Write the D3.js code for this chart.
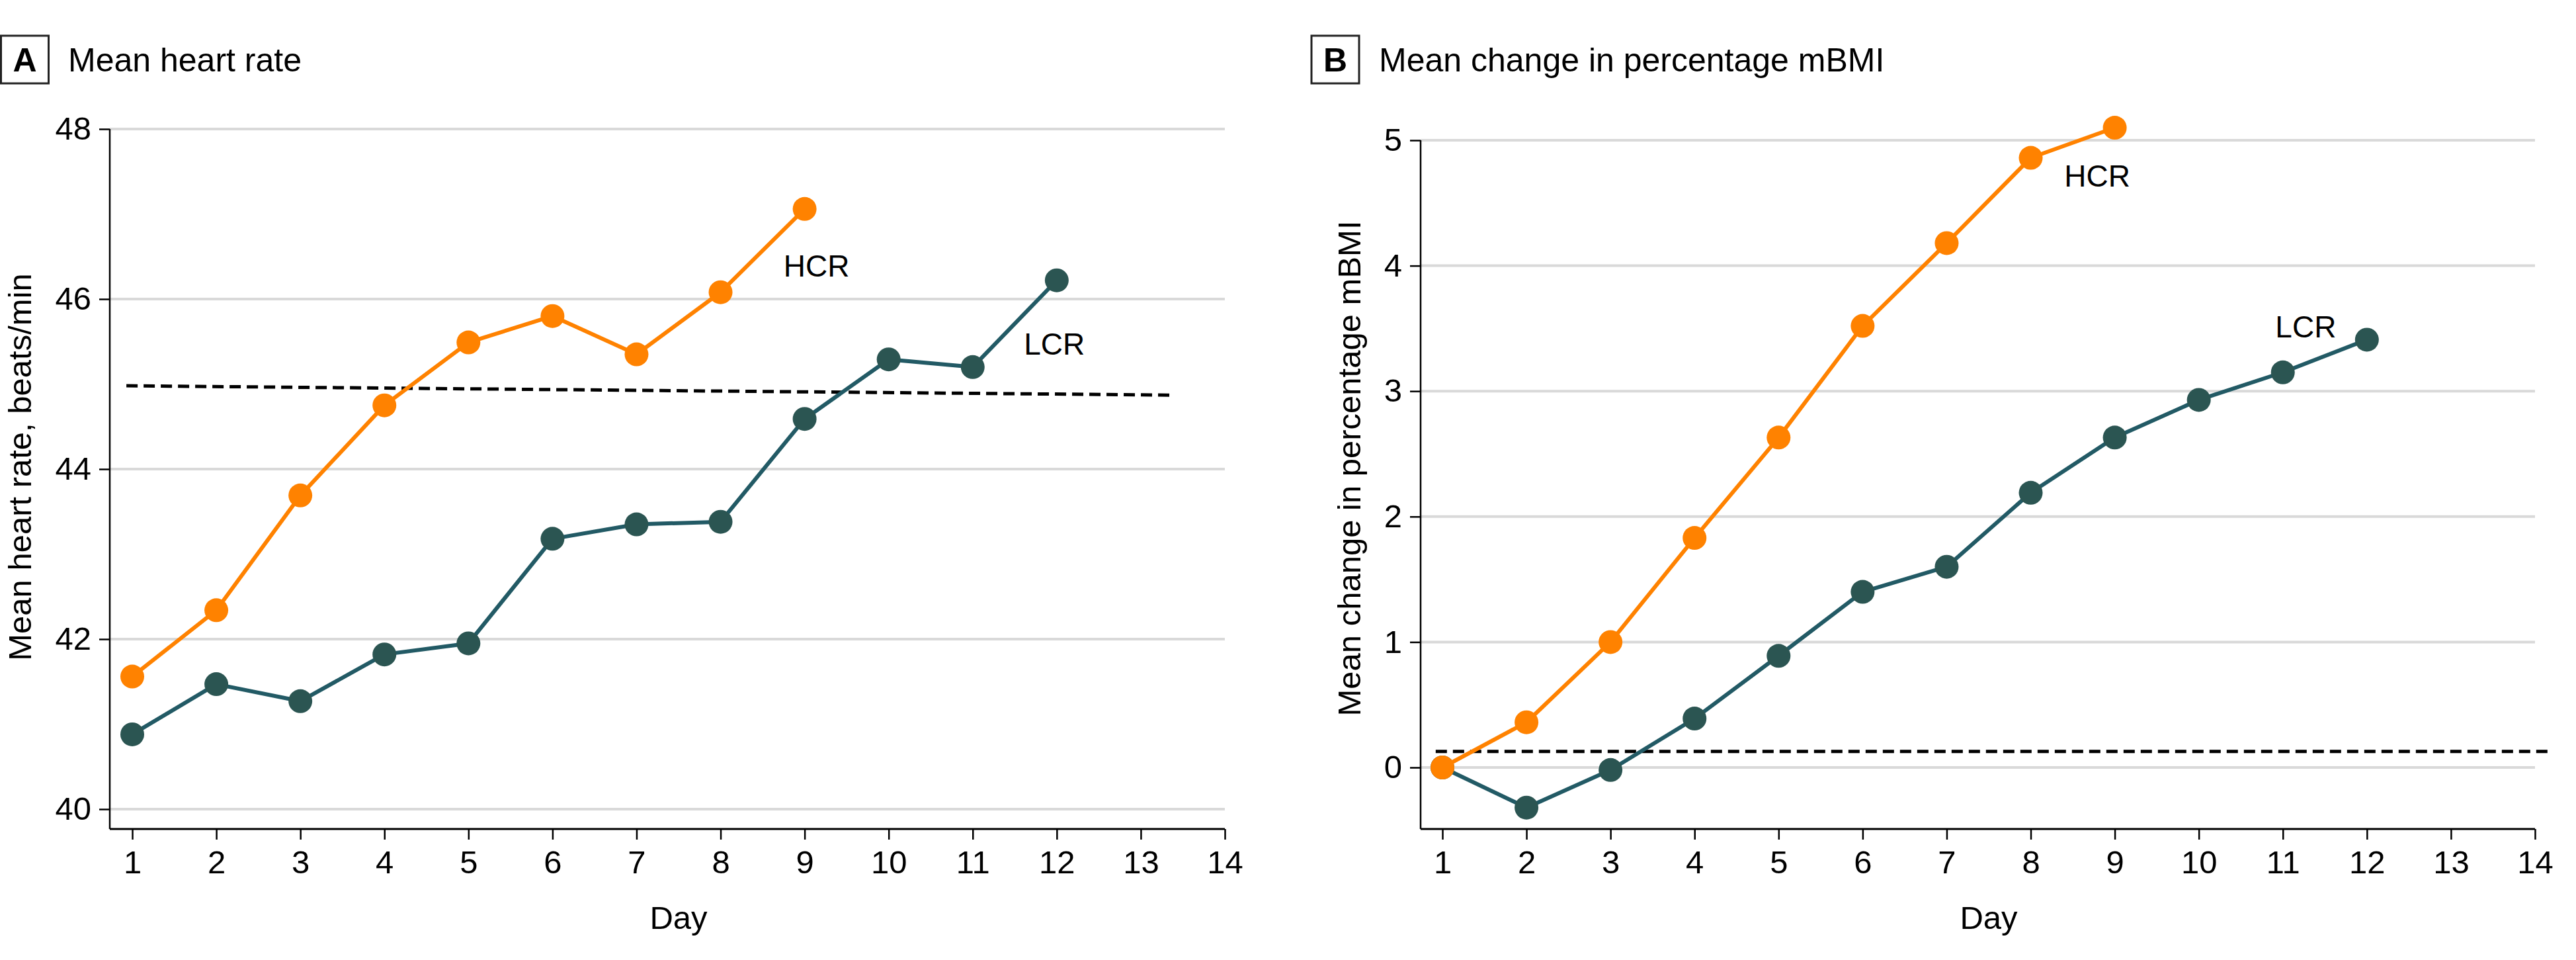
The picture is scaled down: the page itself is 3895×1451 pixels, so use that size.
<!DOCTYPE html>
<html>
<head>
<meta charset="utf-8">
<script src="https://cdn.jsdelivr.net/npm/d3@7"></script>
<style>
  html, body { margin: 0; padding: 0; background: #fff; }
  svg { display: block; }
  text { font-family: "Liberation Sans", Arial, sans-serif; fill: #000; }
</style>
</head>
<body>
<svg id="chart" width="3895" height="1451"></svg>
<script>
// ---------- data ----------
const dayTicks = [1, 2, 3, 4, 5, 6, 7, 8, 9, 10, 11, 12, 13, 14];
const hcrDaysShort = [1, 2, 3, 4, 5, 6, 7, 8, 9];
const lcrDays = [1, 2, 3, 4, 5, 6, 7, 8, 9, 10, 11, 12];

const hrTicks = [40, 42, 44, 46, 48];
const hrHCR = [41.56, 42.34, 43.69, 44.75, 45.49, 45.80, 45.35, 46.08, 47.06];
const hrLCR = [40.88, 41.47, 41.27, 41.82, 41.95, 43.18, 43.35, 43.38, 44.59, 45.29, 45.20, 46.22];
const hrRefDays = [0.93, 13.38];
const hrRefValues = [44.98, 44.87];

const bmiTicks = [0, 1, 2, 3, 4, 5];
const bmiHCR = [0, 0.36, 1.00, 1.83, 2.63, 3.52, 4.18, 4.86, 5.10];
const bmiLCR = [0, -0.32, -0.02, 0.39, 0.89, 1.40, 1.60, 2.19, 2.63, 2.93, 3.15, 3.41];
const bmiRefDays = [0.92, 14.2];
const bmiRefValues = [0.128, 0.128];

const seriesNames = ["LCR", "HCR"];

// ---------- styles ----------
const ORANGE = "#FF8200";
const TEAL_LINE = "#225A65";
const TEAL_DOT = "#2B5552";
const GRID = "#d9d9d9";
const FS = 49;

const svg = d3.select("#chart");
svg.append("rect").attr("width", 3895).attr("height", 1451).attr("fill", "#fff");

const panels = [
  {
    letter: "A", title: "Mean heart rate", ylabel: "Mean heart rate, beats/min",
    boxX: 1.5, titleX: 103, axisX: 166, x0: 200, x1: 1852,
    yDomain: [40, 48], yRange: [1223, 195], yTicks: hrTicks, yTop: 195,
    hcr: hrHCR, lcr: hrLCR, refDays: hrRefDays, refValues: hrRefValues,
    ylabX: 47, ylabY: 706,
    hcrLab: [8.75, 46.265], lcrLab: [11.61, 45.35]
  },
  {
    letter: "B", title: "Mean change in percentage mBMI", ylabel: "Mean change in percentage mBMI",
    boxX: 1983, titleX: 2085, axisX: 2148, x0: 2181, x1: 3833,
    yDomain: [0, 5], yRange: [1160, 212], yTicks: bmiTicks, yTop: 212,
    hcr: bmiHCR, lcr: bmiLCR, refDays: bmiRefDays, refValues: bmiRefValues,
    ylabX: 2057, ylabY: 708,
    hcrLab: [8.40, 4.63], lcrLab: [10.91, 3.43]
  }
];

const AXIS_Y = 1253;

panels.forEach(p => {
  const g = svg.append("g");
  const x = d3.scaleLinear().domain([1, 14]).range([p.x0, p.x1]);
  const y = d3.scaleLinear().domain(p.yDomain).range(p.yRange);

  // panel title with boxed letter
  g.append("rect").attr("x", p.boxX).attr("y", 54).attr("width", 72).attr("height", 72)
    .attr("fill", "none").attr("stroke", "#222").attr("stroke-width", 3);
  g.append("text").attr("x", p.boxX + 36).attr("y", 108).attr("text-anchor", "middle")
    .attr("font-size", 50).attr("font-weight", "bold").text(p.letter);
  g.append("text").attr("x", p.titleX).attr("y", 108).attr("font-size", 50).text(p.title);

  // gridlines
  g.append("g").selectAll("line").data(p.yTicks).join("line")
    .attr("x1", p.axisX).attr("x2", p.x1)
    .attr("y1", d => y(d)).attr("y2", d => y(d))
    .attr("stroke", GRID).attr("stroke-width", 4);

  // y axis
  const ya = g.append("g").attr("transform", `translate(${p.axisX},0)`)
    .call(d3.axisLeft(y).tickValues(p.yTicks).tickSize(16).tickPadding(12).tickFormat(d3.format("d")));
  ya.select(".domain").remove();
  ya.selectAll(".tick line").attr("stroke", "#000").attr("stroke-width", 2.5);
  ya.selectAll(".tick text").attr("font-size", FS).attr("font-family", "Liberation Sans, Arial, sans-serif").attr("fill", "#000");
  g.append("line").attr("x1", p.axisX).attr("x2", p.axisX).attr("y1", p.yTop).attr("y2", AXIS_Y)
    .attr("stroke", "#000").attr("stroke-width", 2.5);

  // x axis
  const xa = g.append("g").attr("transform", `translate(0,${AXIS_Y})`)
    .call(d3.axisBottom(x).tickValues(dayTicks).tickSize(16).tickPadding(16).tickFormat(d3.format("d")));
  xa.select(".domain").remove();
  xa.selectAll(".tick line").attr("stroke", "#000").attr("stroke-width", 2.5);
  xa.selectAll(".tick text").attr("font-size", FS).attr("font-family", "Liberation Sans, Arial, sans-serif").attr("fill", "#000");
  g.append("line").attr("x1", p.axisX).attr("x2", p.x1).attr("y1", AXIS_Y).attr("y2", AXIS_Y)
    .attr("stroke", "#000").attr("stroke-width", 3);

  // axis titles
  g.append("text").attr("transform", `translate(${p.ylabX},${p.ylabY}) rotate(-90)`)
    .attr("text-anchor", "middle").attr("font-size", FS).text(p.ylabel);
  g.append("text").attr("x", (p.x0 + p.x1) / 2).attr("y", 1404).attr("text-anchor", "middle")
    .attr("font-size", FS).text("Day");

  // reference dashed line
  const refData = p.refDays.map((d, i) => [d, p.refValues[i]]);
  g.append("path").datum(refData)
    .attr("d", d3.line().x(d => x(d[0])).y(d => y(d[1])))
    .attr("fill", "none").attr("stroke", "#000").attr("stroke-width", 5)
    .attr("stroke-dasharray", "17 9");

  // series
  const series = [
    { name: "LCR", days: lcrDays, vals: p.lcr, line: TEAL_LINE, dot: TEAL_DOT, lab: p.lcrLab },
    { name: "HCR", days: hcrDaysShort, vals: p.hcr, line: ORANGE, dot: ORANGE, lab: p.hcrLab }
  ];
  series.forEach(s => {
    const pts = s.days.map((d, i) => [d, s.vals[i]]);
    g.append("path").datum(pts)
      .attr("d", d3.line().x(d => x(d[0])).y(d => y(d[1])))
      .attr("fill", "none").attr("stroke", s.line).attr("stroke-width", 6)
      .attr("stroke-linejoin", "round");
    g.append("g").selectAll("circle").data(pts).join("circle")
      .attr("cx", d => x(d[0])).attr("cy", d => y(d[1])).attr("r", 18)
      .attr("fill", s.dot);
    g.append("text").attr("x", x(s.lab[0])).attr("y", y(s.lab[1]))
      .attr("font-size", 46).text(s.name);
  });
});
</script>
</body>
</html>
